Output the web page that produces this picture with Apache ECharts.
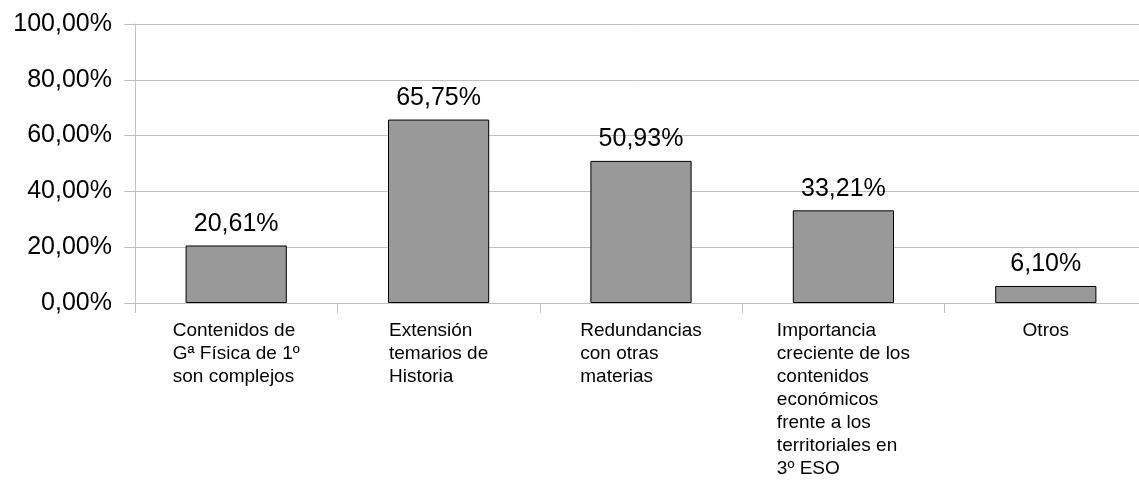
<!DOCTYPE html>
<html>
<head>
<meta charset="utf-8">
<script src="https://cdn.jsdelivr.net/npm/echarts@6/dist/echarts.min.js"></script>
<style>
  html, body { margin: 0; padding: 0; background: #fff; }
  #chart { width: 1139px; height: 490px; }
</style>
</head>
<body>
<div id="chart"></div>
<script>
var categories = [
    'Contenidos de\nGª Física de 1º\nson complejos',
    'Extensión\ntemarios de\nHistoria',
    'Redundancias\ncon otras\nmaterias',
    'Importancia\ncreciente de los\ncontenidos\neconómicos\nfrente a los\nterritoriales en\n3º ESO',
    'Otros'
];
var values = [20.61, 65.75, 50.93, 33.21, 6.10];
var yTicks = [0, 20, 40, 60, 80, 100];

var pct = function (v) {
    return Number(v).toFixed(2).replace('.', ',') + '%';
};

var chart = echarts.init(document.getElementById('chart'));

var option = {
    animation: false,
    textStyle: { fontFamily: 'Liberation Sans, Arial, sans-serif' },
    grid: {
        left: 135,
        right: -8,
        top: 24,
        bottom: 187,
        outerBoundsMode: 'none',
        containLabel: false
    },
    xAxis: {
        type: 'category',
        data: categories,
        axisLine: { lineStyle: { color: '#c0c0c0', width: 1 } },
        axisTick: { show: true, length: 10, lineStyle: { color: '#c0c0c0' } },
        axisLabel: {
            interval: 0,
            margin: 16,
            formatter: function (v) {
                return v.split('\n').map(function (s) { return '{l|' + s + '}'; }).join('\n');
            },
            rich: {
                l: {
                    fontSize: 19,
                    lineHeight: 23,
                    color: '#000',
                    align: 'left',
                    fontFamily: 'Liberation Sans, Arial, sans-serif'
                }
            }
        }
    },
    yAxis: {
        type: 'value',
        min: yTicks[0],
        max: yTicks[yTicks.length - 1],
        interval: 20,
        axisLine: { show: true, lineStyle: { color: '#c0c0c0', width: 1 } },
        axisTick: { show: true, inside: false, length: 11, lineStyle: { color: '#c0c0c0' } },
        splitLine: { lineStyle: { color: '#c0c0c0', width: 1 } },
        axisLabel: {
            margin: 23,
            fontSize: 25,
            color: '#000',
            formatter: pct
        }
    },
    series: [
        {
            type: 'bar',
            data: values,
            barWidth: '50%',
            itemStyle: {
                color: '#999999',
                borderColor: '#000',
                borderWidth: 1
            },
            label: {
                show: true,
                position: 'top',
                distance: 9,
                fontSize: 25,
                color: '#000',
                formatter: function (p) { return pct(p.value); }
            }
        }
    ]
};

chart.setOption(option);
</script>
</body>
</html>
